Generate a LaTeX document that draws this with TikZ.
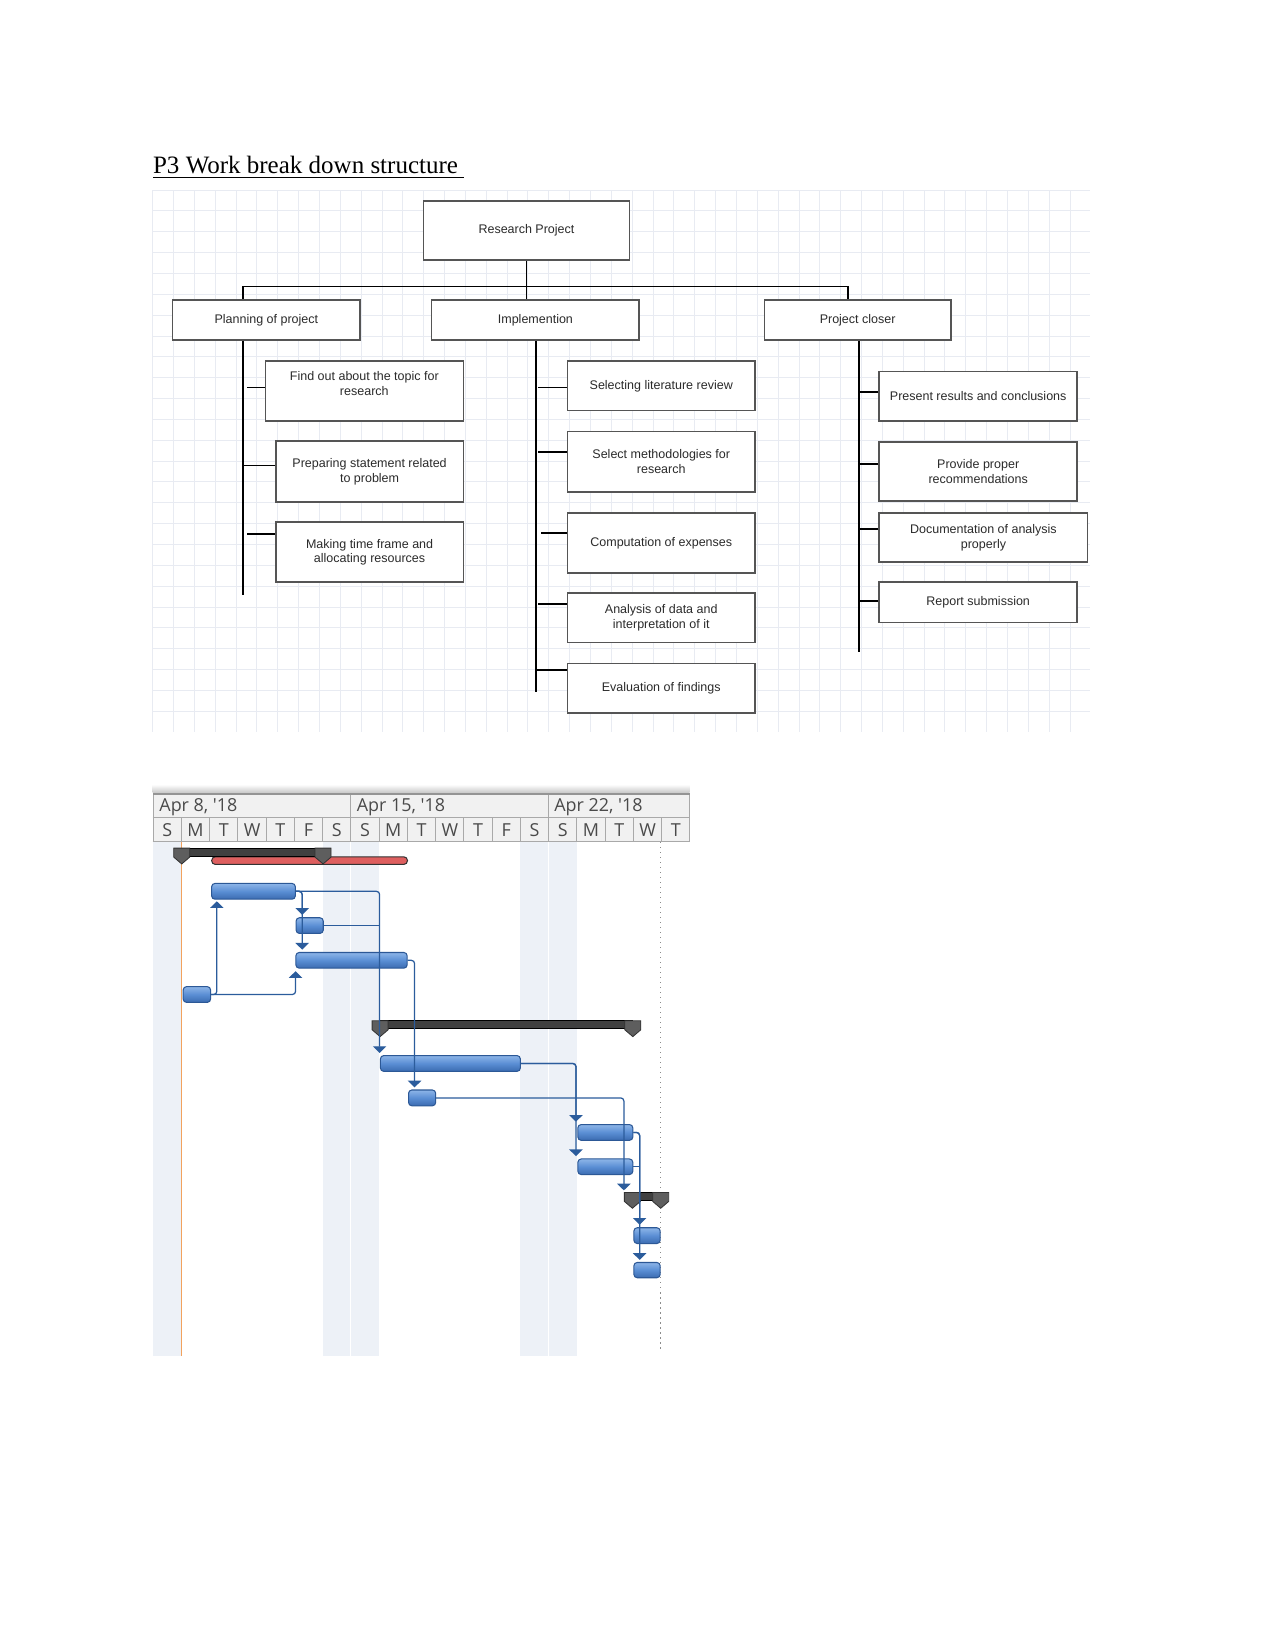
\documentclass[tikz,border=0pt]{standalone}
\usepackage{fontspec}
\setmainfont{Liberation Serif}
\newfontfamily\arialf{Liberation Sans}
\newfontfamily\hdrf{Open Sans}
\usetikzlibrary{fit,arrows.meta,calc}

\definecolor{gridc}{HTML}{E8EBF2}
\definecolor{boxd}{HTML}{555555}
\definecolor{txt}{HTML}{2B2B2B}
\definecolor{hdrbg}{HTML}{F1F1F1}
\definecolor{hdrln}{HTML}{A9A9A9}
\definecolor{hdrtx}{HTML}{4A4A4A}
\definecolor{wkend}{HTML}{EDF1F7}
\definecolor{orangel}{HTML}{F2A25E}
\definecolor{barl}{HTML}{8DB5E8}
\definecolor{barm}{HTML}{5A8ED4}
\definecolor{bard}{HTML}{3B6BB0}
\definecolor{barb}{HTML}{2C5896}
\definecolor{linkc}{HTML}{2B5C9C}
\definecolor{redf}{HTML}{DE5F5F}
\definecolor{capf}{HTML}{5E5E5E}

\newcommand\gcap[2]{\filldraw[draw=black!80, fill=capf, line width=0.4pt] ({#1-7.6},{#2}) -- ({#1+7.6},{#2}) -- ({#1+7.6},{#2+8.5}) -- ({#1},{#2+15}) -- ({#1-7.6},{#2+8.5}) -- cycle;}

\begin{document}
\begin{tikzpicture}[x=0.5053pt,y=-0.5053pt,
  wbstext/.style={inner sep=0pt, font=\arialf\fontsize{6}{7.1}\selectfont, text=txt, align=center},
  wbsbox/.style={wbstext, draw=boxd, line width=0.75pt, fill=white},
  wbsat/.style n args={4}{minimum width={(#3-#1)*0.5053pt}, minimum height={(#4-#2)*0.5053pt}, at={({(#1+#3)/2},{(#2+#4)/2})}},
  wline/.style={line width=0.85pt, black},
  gridline/.style={gridc, line width=0.45pt},
  task/.style={draw=barb, line width=0.5pt, rounded corners=1.6pt, top color=barl, bottom color=bard, middle color=barm, inner sep=0pt},
  link/.style={draw=linkc, line width=0.6pt, rounded corners=1.5pt},
  arr/.style={link, -{Triangle[width=6.4pt,length=3.2pt]}},
  sumbar/.style={draw=black, line width=0.5pt, fill=black!75, inner sep=0pt},
  redbar/.style={draw=black!80, line width=0.5pt, fill=redf, rounded corners=1.8pt, inner sep=0pt},
  hdrtext/.style={font=\hdrf\fontsize{8.6}{10}\selectfont, text=hdrtx, inner sep=0pt},
]
\useasboundingbox (0,0) rectangle (1211,1568);
\fill[white] (0,0) rectangle (1211,1568);

% ---------- title ----------
\node[anchor=base west, inner sep=0pt, font=\fontsize{12}{14}\selectfont] (title) at (145,165) {\underline{P3 Work break down structure\ }};

% ---------- grid ----------
\foreach \i in {0,...,44} { \draw[gridline] ({145+19.8*\i},180.5) -- ({145+19.8*\i},695); }
\foreach \j in {0,...,25} { \draw[gridline] (145,{180.5+19.8*\j}) -- (1035,{180.5+19.8*\j}); }

% ---------- WBS boxes ----------
\node[wbsbox, wbsat={402}{191}{598}{247}] (R) {Research Project};
\node[wbsbox, wbsat={164}{285}{342}{323}] (P) {Planning of project};
\node[wbsbox, wbsat={410}{285}{607}{323}] (I) {Implemention};
\node[wbsbox, wbsat={726}{285}{903}{323}] (C) {Project closer};

\node[wbsbox, wbsat={252}{343}{440}{400}] (P1) {};
\node[wbstext] (P1t) at (346,364.5) {Find out about the topic for\\research};
\node[wbsbox, wbsat={262}{419}{440}{477}] (P2) {Preparing statement related\\to problem};
\node[wbsbox, wbsat={262}{496}{440}{553}] (P3) {Making time frame and\\allocating resources};

\node[wbsbox, wbsat={539}{343}{717}{390}] (I1) {Selecting literature review};
\node[wbsbox, wbsat={539}{410}{717}{467}] (I2) {Select methodologies for\\research};
\node[wbsbox, wbsat={539}{487}{717}{544}] (I3) {Computation of expenses};
\node[wbsbox, wbsat={539}{563}{717}{610}] (I4) {Analysis of data and\\interpretation of it};
\node[wbsbox, wbsat={539}{630}{717}{677}] (I5) {Evaluation of findings};

\node[wbsbox, wbsat={835}{353}{1023}{400}] (C1) {Present results and conclusions};
\node[wbsbox, wbsat={835}{420}{1023}{476}] (C2) {Provide proper\\recommendations};
\node[wbsbox, wbsat={835}{487}{1033}{534}] (C3) {Documentation of analysis\\properly};
\node[wbsbox, wbsat={835}{553}{1023}{591}] (C4) {Report submission};

% ---------- WBS connectors ----------
\coordinate (hub) at (500,272);
\coordinate (hl) at (231,272);
\coordinate (hr) at (805,272);
\coordinate (pv) at (231,565);
\coordinate (iv) at (509,657);
\coordinate (cv) at (816,619);
\draw[wline] (R.south -| hub) -- (hub);
\draw[wline] (hub) -- (hub |- I.north);
\draw[wline] (hl) -- (hr);
\draw[wline] (hl) -- (hl |- P.north);
\draw[wline] (hr) -- (hr |- C.north);
\draw[wline] (pv |- P.south) -- (pv);
\draw[wline] (iv |- I.south) -- (iv);
\draw[wline] (cv |- C.south) -- (cv);

\draw[wline] ([shift={(0,-3.5)}]P1.west) -- ++(-17,0);
\draw[wline] ([shift={(0,-6)}]P2.west) -- ++(-31,0);
\draw[wline] ([shift={(0,-17)}]P3.west) -- ++(-27,0);

\draw[wline] ([shift={(0,1.5)}]I1.west) -- ++(-27,0);
\draw[wline] ([shift={(0,-9)}]I2.west) -- ++(-27,0);
\draw[wline] ([shift={(0,-9.5)}]I3.west) -- ++(-24,0);
\draw[wline] ([shift={(0,-12.8)}]I4.west) -- ++(-27,0);
\draw[wline] ([shift={(0,-17)}]I5.west) -- ++(-30,0);

\draw[wline] ([shift={(0,-4.5)}]C1.west) -- ++(-19,0);
\draw[wline] ([shift={(0,-7)}]C2.west) -- ++(-19,0);
\draw[wline] ([shift={(0,-8)}]C3.west) -- ++(-19,0);
\draw[wline] ([shift={(0,-1)}]C4.west) -- ++(-19,0);

% ---------- Gantt header ----------
\shade[top color=white, bottom color=black!22] (145,745) rectangle (655,753);
\fill[black!42] (145,753) rectangle (655,755);
\fill[hdrbg] (145,755) rectangle (655,799.5);
\draw[hdrln, line width=0.5pt] (145,776) -- (655,776);
\draw[hdrln, line width=0.5pt] (145,799.5) -- (655,799.5);
\foreach \i in {0,7,14,19} { \draw[hdrln, line width=0.5pt] ({145.5+26.83*\i},755) -- ({145.5+26.83*\i},776); }
\foreach \i in {0,...,19} { \draw[hdrln, line width=0.5pt] ({145.5+26.83*\i},776) -- ({145.5+26.83*\i},799.5); }
\node[hdrtext, anchor=west] (w1) at (151,766.5) {Apr 8, {\char"27}18};
\node[hdrtext, anchor=west] (w2) at (338.5,766.5) {Apr 15, {\char"27}18};
\node[hdrtext, anchor=west] (w3) at (526,766.5) {Apr 22, {\char"27}18};
\foreach \l [count=\i from 0] in {S,M,T,W,T,F,S,S,M,T,W,T,F,S,S,M,T,W,T}
  { \node[hdrtext] (d\i) at ({145.5+26.83*(\i+0.5)},788) {\l}; }

% ---------- Gantt body ----------
\fill[wkend] (145.5,799.8) rectangle (172.3,1288);
\fill[wkend] (306.5,799.8) rectangle (360.2,1288);
\fill[wkend] (494.3,799.8) rectangle (548,1288);
\draw[white, line width=0.5pt] (333.3,799.8) -- (333.3,1288);
\draw[white, line width=0.5pt] (521.1,799.8) -- (521.1,1288);
\draw[orangel, line width=0.6pt] (172.6,799.8) -- (172.6,1288);
\draw[black!45, line width=0.6pt, dash pattern=on 0.6pt off 1.8pt] (627.5,799.8) -- (627.5,1283);

% red bar and summary 1
\node[redbar, fit={(201,813.7)(387,821)}] (r1) {};
\node[sumbar, fit={(172.6,805.5)(306.8,813)}] (s1) {};
\gcap{172.6}{805.5}
\gcap{306.8}{805.5}

% tasks
\node[task, fit={(201,839)(280.5,854)}] (t2) {};
\node[task, fit={(281.2,871.6)(307,886.5)}] (t3) {};
\node[task, fit={(281,904.6)(386.7,919.5)}] (t4) {};
\node[task, fit={(174,937)(200,952)}] (t5) {};

\node[sumbar, fit={(361,969.5)(601,977)}] (s6) {};
\gcap{361}{969.5}
\gcap{601}{969.5}

\node[task, fit={(361.3,1002.5)(494.2,1017.5)}] (t7) {};
\node[task, fit={(388,1035.2)(413.8,1050.2)}] (t8) {};
\node[task, fit={(548.8,1068)(601,1083)}] (t9) {};
\node[task, fit={(548.8,1100.7)(601,1115.5)}] (t10) {};

\node[sumbar, fit={(600.6,1132.5)(627.5,1140)}] (s11) {};
\gcap{600.6}{1132.5}
\gcap{627.5}{1132.5}

\node[task, fit={(602,1166)(627,1181)}] (t12) {};
\node[task, fit={(602,1199)(627,1213.5)}] (t13) {};

% links
\draw[arr] (t5.east) -| ([shift={(5.4,1.5)}]t2.south west);
\draw[arr] (t5.east) -| ([shift={(0.2,2.4)}]t4.south west);
\draw[arr] (t2.east) -| ([shift={(6.3,-2.3)}]t3.north west);
\draw[arr] (t2.east) -| ([shift={(6.5,-2.2)}]t4.north west);
\draw[arr] (t2.east) -| ([shift={(-0.3,-2)}]t7.north west);
\draw[link] (t3.east) -- ($(t3.east -| t7.west)+(-0.3,0)$);
\draw[arr] (t4.east) -| ([shift={(6.2,-2)}]t8.north west);
\draw[arr] (t7.east) -| ([shift={(-1.3,-2.2)}]t9.north west);
\draw[arr] (t7.east) -| ([shift={(-1.3,-2.2)}]t10.north west);
\draw[arr] (t8.east) -| ([shift={(-7.6,-1.5)}]s11.north west);
\draw[arr] (t9.east) -| ([shift={(6,-2.4)}]t12.north west);
\draw[arr] (t9.east) -| ([shift={(6,-2)}]t13.north west);
\draw[link] (t10.east) -- ($(t10.east -| t12.west)+(6,0)$);
\end{tikzpicture}
\end{document}
